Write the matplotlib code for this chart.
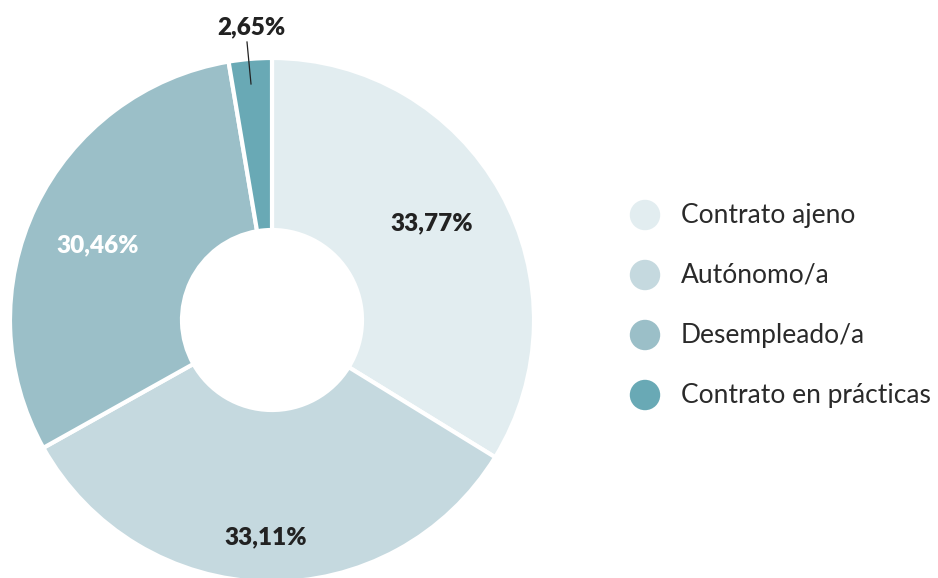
import matplotlib.pyplot as plt

categories = ['Contrato ajeno', 'Autónomo/a', 'Desempleado/a', 'Contrato en prácticas']
values = [33.77, 33.11, 30.46, 2.65]
value_labels = ['33,77%', '33,11%', '30,46%', '2,65%']
colors = ['#e2edf0', '#c5d9df', '#9bbfc8', '#69a9b5']

W, H = 938, 578
fig = plt.figure(figsize=(W / 100, H / 100), dpi=100)
ax = fig.add_axes([0, 0, 1, 1])

cx, cy = 272, H - 320
R = 262
r_in = 90

wedges, _ = ax.pie(values, colors=colors, startangle=90, counterclock=False,
                   radius=R, center=(cx, cy),
                   wedgeprops=dict(width=R - r_in, edgecolor='white', linewidth=3))
ax.set_xlim(0, W)
ax.set_ylim(0, H)
ax.set_aspect('equal')
ax.axis('off')

lab_font = dict(family=['Lato', 'DejaVu Sans'], fontsize=17.5, fontweight='heavy')
# label positions (pixels) for each slice
lab_pos = [(432, 223), (266, 537), (98, 245), (251, 27)]
lab_col = ['#222222', '#222222', 'white', '#222222']
for txt, (px, py), c in zip(value_labels, lab_pos, lab_col):
    ax.text(px, H - py, txt, color=c, ha='center', va='center', **lab_font)
# leader line for small slice
ax.plot([247, 251], [H - 42, H - 84], color='#222222', lw=0.9)

# legend
for i, (cat, col) in enumerate(zip(categories, colors)):
    y = H - (215 + i * 60)
    ax.scatter([645], [y], s=480, color=col, edgecolors='none')
    ax.text(681, y, cat, ha='left', va='center', color='#2a2a2a',
            family=['Lato', 'DejaVu Sans'], fontsize=19, fontweight='normal')

fig.savefig('out.png', dpi=100)
